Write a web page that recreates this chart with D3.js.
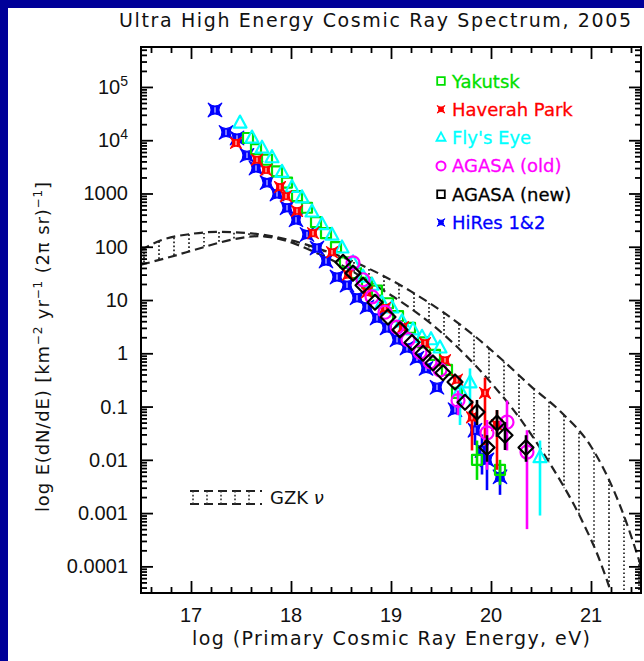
<!DOCTYPE html>
<html><head><meta charset="utf-8">
<script src="https://cdn.jsdelivr.net/npm/d3@7"></script>
<style>body{margin:0;background:#fff}svg{display:block}</style>
</head><body>
<svg id="c" width="644" height="661"></svg>
<script>
// ---------------- DATA ----------------
const xTicksMajor = [17, 18, 19, 20, 21];
const yTicksMajor = [1e-4, 1e-3, 0.01, 0.1, 1, 10, 100, 1000, 1e4, 1e5];
const yTickLabels = ["0.0001", "0.001", "0.01", "0.1", "1", "10", "100", "1000", "10^4", "10^5"];

// Yakutsk
const yakE    = [17.57,17.65,17.76,17.86,17.96,18.06,18.16,18.25,18.35,18.45,18.54,18.65,18.76,18.86,18.97,19.07,19.19,19.32,19.44,19.56,19.66,19.86,20.09];
const yakFlux = [11000,6800,4300,2600,1600,890,540,290,180,98,51,32,21,15,8.7,5.0,3.0,1.6,0.93,0.49,0.18,0.010,0.0065];
const yakBarE = [19.86, 20.09];
const yakBarLo = [0.0042, 0.0034];
const yakBarHi = [0.023, 0.010];

// Haverah Park
const hpE    = [17.45,17.66,17.75,17.89,17.95,18.06,18.22,18.41,18.57,18.76,18.94,19.12,19.34,19.54,19.66,19.81,19.94,20.06];
const hpFlux = [8900,4300,2750,1320,890,470,180,79,30,14,7.1,3.1,1.55,0.74,0.32,0.063,0.18,0.045];
const hpBarE = [19.81, 19.94, 20.06];
const hpBarLo = [0.015, 0.019, 0.0065];
const hpBarHi = [0.13, 0.35, 0.086];

// Fly's Eye
const feE    = [17.49,17.61,17.71,17.81,17.91,18.01,18.11,18.21,18.31,18.41,18.51,18.62,18.72,18.81,18.91,19.01,19.11,19.22,19.31,19.40,19.49,19.69,19.79,20.49];
const feFlux = [21000,11000,7100,4700,2500,1300,830,450,260,165,95,50,27,19,8.7,7.1,3.9,2.75,2.0,1.8,1.26,0.2,0.28,0.011];
const feBarE = [19.69, 19.79, 20.49];
const feBarLo = [0.045, 0.107, 0.0009];
const feBarHi = [0.39, 0.52, 0.023];

// AGASA (old)
const aoE    = [18.62,18.72,18.81,18.94,19.06,19.17,19.29,19.39,19.49,19.67,19.96,20.16,20.36];
const aoFlux = [50,24,11.5,5.9,3.1,1.8,1.05,0.69,0.49,0.13,0.032,0.051,0.014];
const aoBarE = [19.67, 19.96, 20.16, 20.36];
const aoBarLo = [0.069, 0.0065, 0.015, 0.0005];
const aoBarHi = [0.20, 0.056, 0.13, 0.036];

// AGASA (new)
const anE    = [18.52,18.62,18.72,18.84,18.97,19.09,19.21,19.32,19.42,19.52,19.64,19.74,19.86,19.96,20.06,20.14,20.35];
const anFlux = [51,32,19,9.1,4.8,2.75,1.6,1.0,0.66,0.43,0.29,0.12,0.079,0.017,0.049,0.029,0.017];
const anBarE = [19.86, 19.96, 20.06, 20.14, 20.35];
const anBarLo = [0.045, 0.0092, 0.027, 0.0153, 0.0092];
const anBarHi = [0.133, 0.029, 0.086, 0.051, 0.029];

// HiRes 1&2
const hrE    = [17.24,17.35,17.46,17.56,17.65,17.76,17.86,17.96,18.05,18.16,18.26,18.35,18.46,18.56,18.66,18.76,18.86,18.96,19.06,19.16,19.26,19.35,19.46,19.64,19.84,19.91,19.96,20.09];
const hrFlux = [37000,14000,11000,5200,3000,1600,980,540,320,170,95,54,27,19,11,7.4,4.6,3.0,1.8,1.26,0.81,0.52,0.23,0.087,0.036,0.015,0.010,0.0048];
const hrBarE = [19.84, 19.91, 19.96, 20.09];
const hrBarLo = [0.019, 0.0053, 0.0027, 0.0022];
const hrBarHi = [0.069, 0.030, 0.019, 0.008];

// GZK neutrino band (upper & lower envelopes)
const gzkUpE    = [16.5,16.7,17.0,17.25,17.6,18.0,18.3,18.6,18.9,19.2,19.5,19.8,20.1,20.4,20.7,21.0,21.2,21.35,21.5];
const gzkUpFlux = [87,132,174,190,178,132,89,55,30,14.5,6.3,2.4,0.79,0.24,0.079,0.0178,0.0035,0.0007,0.0001];
const gzkLoE    = [16.5,16.8,17.1,17.4,17.67,17.94,18.2,18.5,18.8,19.1,19.4,19.7,20.0,20.3,20.6,20.9,21.1,21.2,21.25];
const gzkLoFlux = [46,65,95,135,158,132,85,46,21,9.3,3.6,1.12,0.28,0.056,0.0079,0.00079,0.000112,0.0000316,0.000014];

const legendNames  = ["Yakutsk", "Haverah  Park", "Fly's  Eye", "AGASA  (old)", "AGASA  (new)", "HiRes  1&2"];
const legendColors = ["#00e000", "#ff0000", "#00ffff", "#ff00ff", "#000000", "#0000ff"];
const legendShapes = ["square", "astroid", "triangle", "circle", "square", "astroid"];

// ---------------- LAYOUT ----------------
const L = 141, R = 641, T = 47, B = 593;
const x = d3.scaleLinear().domain([16.5, 21.5]).range([L, R]);
const y = d3.scaleLog().domain([Math.pow(10,-4.5), Math.pow(10,5.75)]).range([B, T]);

const svg = d3.select("#c");
svg.append("rect").attr("width", 644).attr("height", 661).attr("fill", "#000099");
svg.append("rect").attr("x", 8).attr("y", 8).attr("width", 636).attr("height", 653).attr("fill", "#fff");

svg.append("defs").append("clipPath").attr("id", "clip")
  .append("rect").attr("x", L).attr("y", T).attr("width", R - L).attr("height", B - T);

// ---------- title ----------
svg.append("text").attr("x", 375).attr("y", 27).attr("text-anchor", "middle")
  .attr("font-family", "DejaVu Sans, sans-serif").attr("font-size", 19)
  .attr("textLength", 512).attr("lengthAdjust", "spacing").attr("fill", "#111")
  .text("Ultra High Energy Cosmic Ray Spectrum, 2005");

// ---------- GZK band ----------
const plot = svg.append("g").attr("clip-path", "url(#clip)");
const interpLog = (es, fs, v) => {
  if (v <= es[0]) return Math.log10(fs[0]);
  for (let i = 1; i < es.length; i++) {
    if (v <= es[i]) {
      const t = (v - es[i-1]) / (es[i] - es[i-1]);
      return Math.log10(fs[i-1]) * (1 - t) + Math.log10(fs[i]) * t;
    }
  }
  return Math.log10(fs[fs.length-1]) - 3;
};
const hatchX = d3.range(16.53, 21.5, 0.15);
plot.append("g").selectAll("line").data(hatchX).join("line")
  .attr("x1", d => x(d)).attr("x2", d => x(d))
  .attr("y1", d => y(Math.pow(10, interpLog(gzkUpE, gzkUpFlux, d))))
  .attr("y2", d => y(Math.pow(10, interpLog(gzkLoE, gzkLoFlux, d))))
  .attr("stroke", "#222").attr("stroke-width", 1.7).attr("stroke-dasharray", "1.7,2.3");
const bandLine = d3.line().x(d => x(d[0])).y(d => y(d[1])).curve(d3.curveMonotoneX);
[[gzkUpE, gzkUpFlux], [gzkLoE, gzkLoFlux]].forEach(([es, fs]) => {
  plot.append("path").attr("d", bandLine(es.map((e, i) => [e, fs[i]])))
    .attr("fill", "none").attr("stroke", "#222").attr("stroke-width", 2.2)
    .attr("stroke-dasharray", "9,5");
});

// ---------- markers ----------
function shapePath(type, s) {
  if (type === "square") return `M${-s},${-s}H${s}V${s}H${-s}Z`;
  if (type === "diamond") return `M0,${-s}L${s},0L0,${s}L${-s},0Z`;
  if (type === "triangle") return `M0,${-s*1.15}L${s},${s*0.7}L${-s},${s*0.7}Z`;
  if (type === "astroid") {
    const c = s * 0.15;
    return `M${-s},${-s}Q0,${-c} ${s},${-s}Q${c},0 ${s},${s}Q0,${c} ${-s},${s}Q${-c},0 ${-s},${-s}Z`;
  }
  return "";
}
function drawSeries(es, fs, barE, barLo, barHi, color, type, size, filled) {
  const g = plot.append("g");
  g.selectAll("line").data(barE).join("line")
    .attr("x1", d => x(d)).attr("x2", d => x(d))
    .attr("y1", (d, i) => y(barLo[i])).attr("y2", (d, i) => y(barHi[i]))
    .attr("stroke", color).attr("stroke-width", 2.6);
  const pts = es.map((e, i) => [e, fs[i]]);
  if (type === "circle") {
    g.selectAll("circle").data(pts).join("circle")
      .attr("cx", d => x(d[0])).attr("cy", d => y(d[1])).attr("r", size)
      .attr("fill", "none").attr("stroke", color).attr("stroke-width", 2.2);
  } else {
    g.selectAll("path").data(pts).join("path")
      .attr("transform", d => `translate(${x(d[0])},${y(d[1])})`)
      .attr("d", shapePath(type, size))
      .attr("fill", filled ? color : "none").attr("stroke", color)
      .attr("stroke-width", filled ? 1.2 : 2.2).attr("stroke-linejoin", "round");
    if (filled) {
      g.selectAll("rect.c").data(pts).join("rect").attr("class", "c")
        .attr("x", d => x(d[0]) - 0.8).attr("y", d => y(d[1]) - size * 0.4)
        .attr("width", 1.6).attr("height", size * 0.8).attr("fill", "#fff").attr("opacity", 0.6);
    }
  }
}
drawSeries(hrE, hrFlux, hrBarE, hrBarLo, hrBarHi, "#0000ff", "astroid", 6.8, true);
drawSeries(yakE, yakFlux, yakBarE, yakBarLo, yakBarHi, "#00e000", "square", 5, false);
drawSeries(feE, feFlux, feBarE, feBarLo, feBarHi, "#00ffff", "triangle", 6.5, false);
drawSeries(hpE, hpFlux, hpBarE, hpBarLo, hpBarHi, "#ff0000", "astroid", 5.5, true);
drawSeries(aoE, aoFlux, aoBarE, aoBarLo, aoBarHi, "#ff00ff", "circle", 6.5, false);
drawSeries(anE, anFlux, anBarE, anBarLo, anBarHi, "#000000", "diamond", 7.5, false);

// ---------- axes / frame ----------
const xMinor = d3.range(0, 25).map(i => +(16.6 + i * 0.2).toFixed(2)).filter(v => !xTicksMajor.includes(v));
const yMinor = [];
for (let k = -5; k <= 5; k++) for (let m = 2; m <= 9; m++) {
  const v = m * Math.pow(10, k);
  if (v > y.domain()[0] && v < y.domain()[1]) yMinor.push(v);
}
function addAxis(axis, tx, ty) {
  const g = svg.append("g").attr("transform", `translate(${tx},${ty})`).call(axis);
  g.select(".domain").remove();
  g.selectAll("line").attr("stroke", "#000").attr("stroke-width", 1.8);
  return g;
}
addAxis(d3.axisBottom(x).tickValues(xMinor).tickSize(-6).tickFormat(""), 0, B);
addAxis(d3.axisBottom(x).tickValues(xTicksMajor).tickSize(-12).tickFormat(""), 0, B);
addAxis(d3.axisTop(x).tickValues(xMinor).tickSize(-6).tickFormat(""), 0, T);
addAxis(d3.axisTop(x).tickValues(xTicksMajor).tickSize(-12).tickFormat(""), 0, T);
addAxis(d3.axisLeft(y).tickValues(yMinor).tickSize(-6).tickFormat(""), L, 0);
addAxis(d3.axisLeft(y).tickValues(yTicksMajor).tickSize(-12).tickFormat(""), L, 0);
addAxis(d3.axisRight(y).tickValues(yMinor).tickSize(-6).tickFormat(""), R, 0);
addAxis(d3.axisRight(y).tickValues(yTicksMajor).tickSize(-12).tickFormat(""), R, 0);
svg.append("rect").attr("x", L).attr("y", T).attr("width", R - L).attr("height", B - T)
  .attr("fill", "none").attr("stroke", "#000").attr("stroke-width", 2);

// tick labels
const tickFont = "Liberation Sans, Arial, sans-serif";
svg.append("g").selectAll("text").data(xTicksMajor).join("text")
  .attr("x", d => x(d)).attr("y", 622).attr("text-anchor", "middle")
  .attr("font-family", tickFont).attr("font-size", 20).attr("fill", "#111").text(d => d);
const yl = svg.append("g").selectAll("text").data(yTicksMajor).join("text")
  .attr("x", 128).attr("y", d => y(d) + 7).attr("text-anchor", "end")
  .attr("font-family", tickFont).attr("font-size", 20).attr("fill", "#111");
yl.each(function(d, i) {
  const lab = yTickLabels[i];
  const t = d3.select(this);
  if (lab.includes("^")) {
    const [base, ex] = lab.split("^");
    t.append("tspan").text(base);
    t.append("tspan").attr("dy", -8).attr("font-size", 14).text(ex);
  } else t.text(lab);
});

// axis titles
const titleFont = "DejaVu Sans, sans-serif";
svg.append("text").attr("x", 391).attr("y", 645).attr("text-anchor", "middle")
  .attr("font-family", titleFont).attr("font-size", 19).attr("fill", "#111")
  .attr("textLength", 398).attr("lengthAdjust", "spacing")
  .text("log (Primary Cosmic Ray Energy, eV)");
const yt = svg.append("text").attr("transform", "translate(49,347) rotate(-90)")
  .attr("text-anchor", "middle").attr("font-family", titleFont).attr("font-size", 18).attr("fill", "#111")
  .attr("textLength", 330).attr("lengthAdjust", "spacing");
yt.append("tspan").text("log  E(dN/dE)  [km");
yt.append("tspan").attr("dy", -7).attr("font-size", 12).text("−2");
yt.append("tspan").attr("dy", 7).text(" yr");
yt.append("tspan").attr("dy", -7).attr("font-size", 12).text("−1");
yt.append("tspan").attr("dy", 7).text(" (2π sr)");
yt.append("tspan").attr("dy", -7).attr("font-size", 12).text("−1");
yt.append("tspan").attr("dy", 7).text("]");

// ---------- legend ----------
const lg = svg.append("g");
legendNames.forEach((name, i) => {
  const cy = 81 + i * 28.3;
  const col = legendColors[i];
  const sh = legendShapes[i];
  if (sh === "circle") {
    lg.append("circle").attr("cx", 441).attr("cy", cy).attr("r", 4.5)
      .attr("fill", "none").attr("stroke", col).attr("stroke-width", 2);
  } else {
    const filled = sh === "astroid";
    lg.append("path").attr("transform", `translate(441,${cy})`)
      .attr("d", shapePath(sh, sh === "triangle" ? 4.5 : 3.8))
      .attr("fill", filled ? col : "none").attr("stroke", col).attr("stroke-width", filled ? 1 : 1.8);
  }
  lg.append("text").attr("x", 452).attr("y", cy + 6.5)
    .attr("font-family", titleFont).attr("font-size", 18).attr("fill", col)
    .attr("stroke", col).attr("stroke-width", 0.3).text(name);
});

// GZK legend symbol
const gz = svg.append("g");
gz.append("line").attr("x1", 190).attr("x2", 262).attr("y1", 491).attr("y2", 491)
  .attr("stroke", "#222").attr("stroke-width", 2).attr("stroke-dasharray", "9,5");
gz.append("line").attr("x1", 190).attr("x2", 262).attr("y1", 504).attr("y2", 504)
  .attr("stroke", "#222").attr("stroke-width", 2).attr("stroke-dasharray", "9,5");
gz.selectAll("line.h").data(d3.range(193, 262, 14)).join("line").attr("class", "h")
  .attr("x1", d => d).attr("x2", d => d).attr("y1", 491).attr("y2", 504)
  .attr("stroke", "#333").attr("stroke-width", 1.6).attr("stroke-dasharray", "1.6,2.2");
const gzt = gz.append("text").attr("x", 270).attr("y", 504)
  .attr("font-family", titleFont).attr("font-size", 18).attr("fill", "#111");
gzt.append("tspan").text("GZK ");
gzt.append("tspan").attr("font-style", "italic").text("ν");
</script>
</body></html>
